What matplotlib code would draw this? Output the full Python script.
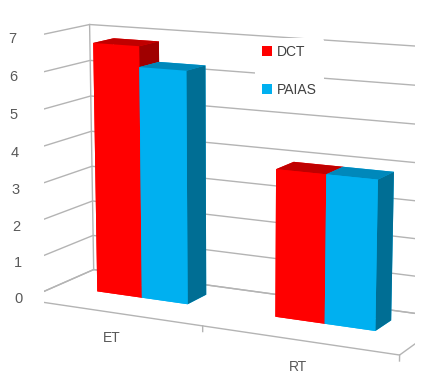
import numpy as np
import matplotlib
matplotlib.use("Agg")
import matplotlib.pyplot as plt
from matplotlib.patches import Patch

categories = ["ET", "RT"]
series = ["DCT", "PAIAS"]
dct = [6.8, 3.9]
paias = [6.25, 3.9]
value_ticks = [0, 1, 2, 3, 4, 5, 6, 7]

front = ["#FF0000", "#00B0F0"]
top = ["#C00000", "#0088BB"]
side = ["#A00000", "#006E94"]
grid_c = "#B4B4B4"
text_c = "#595959"

plt.rcParams["font.family"] = ["Liberation Sans", "DejaVu Sans"]

fig = plt.figure(figsize=(4.34, 3.71), dpi=100)
ax = fig.add_axes([12 / 434, 2 / 371, 1, 1], projection="3d")
ax.set_axis_off()
ax.computed_zorder = False

x0, x1 = -0.5, len(categories) - 0.5
zmax = value_ticks[-1]
ax.set_xlim(x0, x1)
ax.set_ylim(0, 1)
ax.set_zlim(0, zmax)
ax.set_proj_type("persp", focal_length=0.9)
ax.set_box_aspect((450, 147, 293), zoom=1.345)
ax.view_init(elev=12, azim=-63)

# walls: left side + back, with value gridlines
gkw = dict(color=grid_c, lw=1.0, zorder=1)
for v in value_ticks:
    ax.plot([x0, x0, x1], [0, 1, 1], [v, v, v], **gkw)
    ax.plot([x0 - 0.035, x0], [0, 0], [v, v], **gkw)
    ax.text(x0 - 0.015, 0, v, str(v), ha="right", va="center",
            fontsize=10.5, color=text_c)
ax.plot([x0, x0], [0, 0], [0, zmax], **gkw)
ax.plot([x0, x0], [1, 1], [0, zmax], **gkw)
ax.plot([x1, x1], [1, 1], [0, zmax], **gkw)

# floor outline and category ticks
ax.plot([x0, x1, x1, x0, x0], [0, 0, 1, 1, 0], [0, 0, 0, 0, 0], **gkw)
for xb in np.arange(x0, x1 + 0.01, 1.0):
    ax.plot([xb, xb], [0, 0], [0, -0.15], **gkw)
for i, cat in enumerate(categories):
    ax.text(i, 0, -0.7, cat, ha="center", va="center",
            fontsize=10, color=text_c)

# bars: face order is -z, +z, -y, +y, -x, +x
xs = np.arange(len(categories))
w = 0.26
for k, vals in enumerate([dct, paias]):
    faces = [front[k], top[k], front[k], front[k], front[k], side[k]]
    ax.bar3d(xs - w + k * w, 0.45, 0, w, 0.3, vals,
             color=faces * len(xs), shade=False, zorder=3 + k)

handles = [Patch(facecolor=c, edgecolor="none") for c in front]
leg = fig.legend(handles, series, loc="upper left",
                 bbox_to_anchor=(248 / 434, 1 - 31 / 371),
                 frameon=True, facecolor="white", edgecolor="none",
                 framealpha=1, fontsize=10, handlelength=0.75,
                 handleheight=0.75, labelspacing=1.7, handletextpad=0.35,
                 borderpad=0.5)
for t in leg.get_texts():
    t.set_color("#404040")

fig.savefig("out.png", dpi=100)
